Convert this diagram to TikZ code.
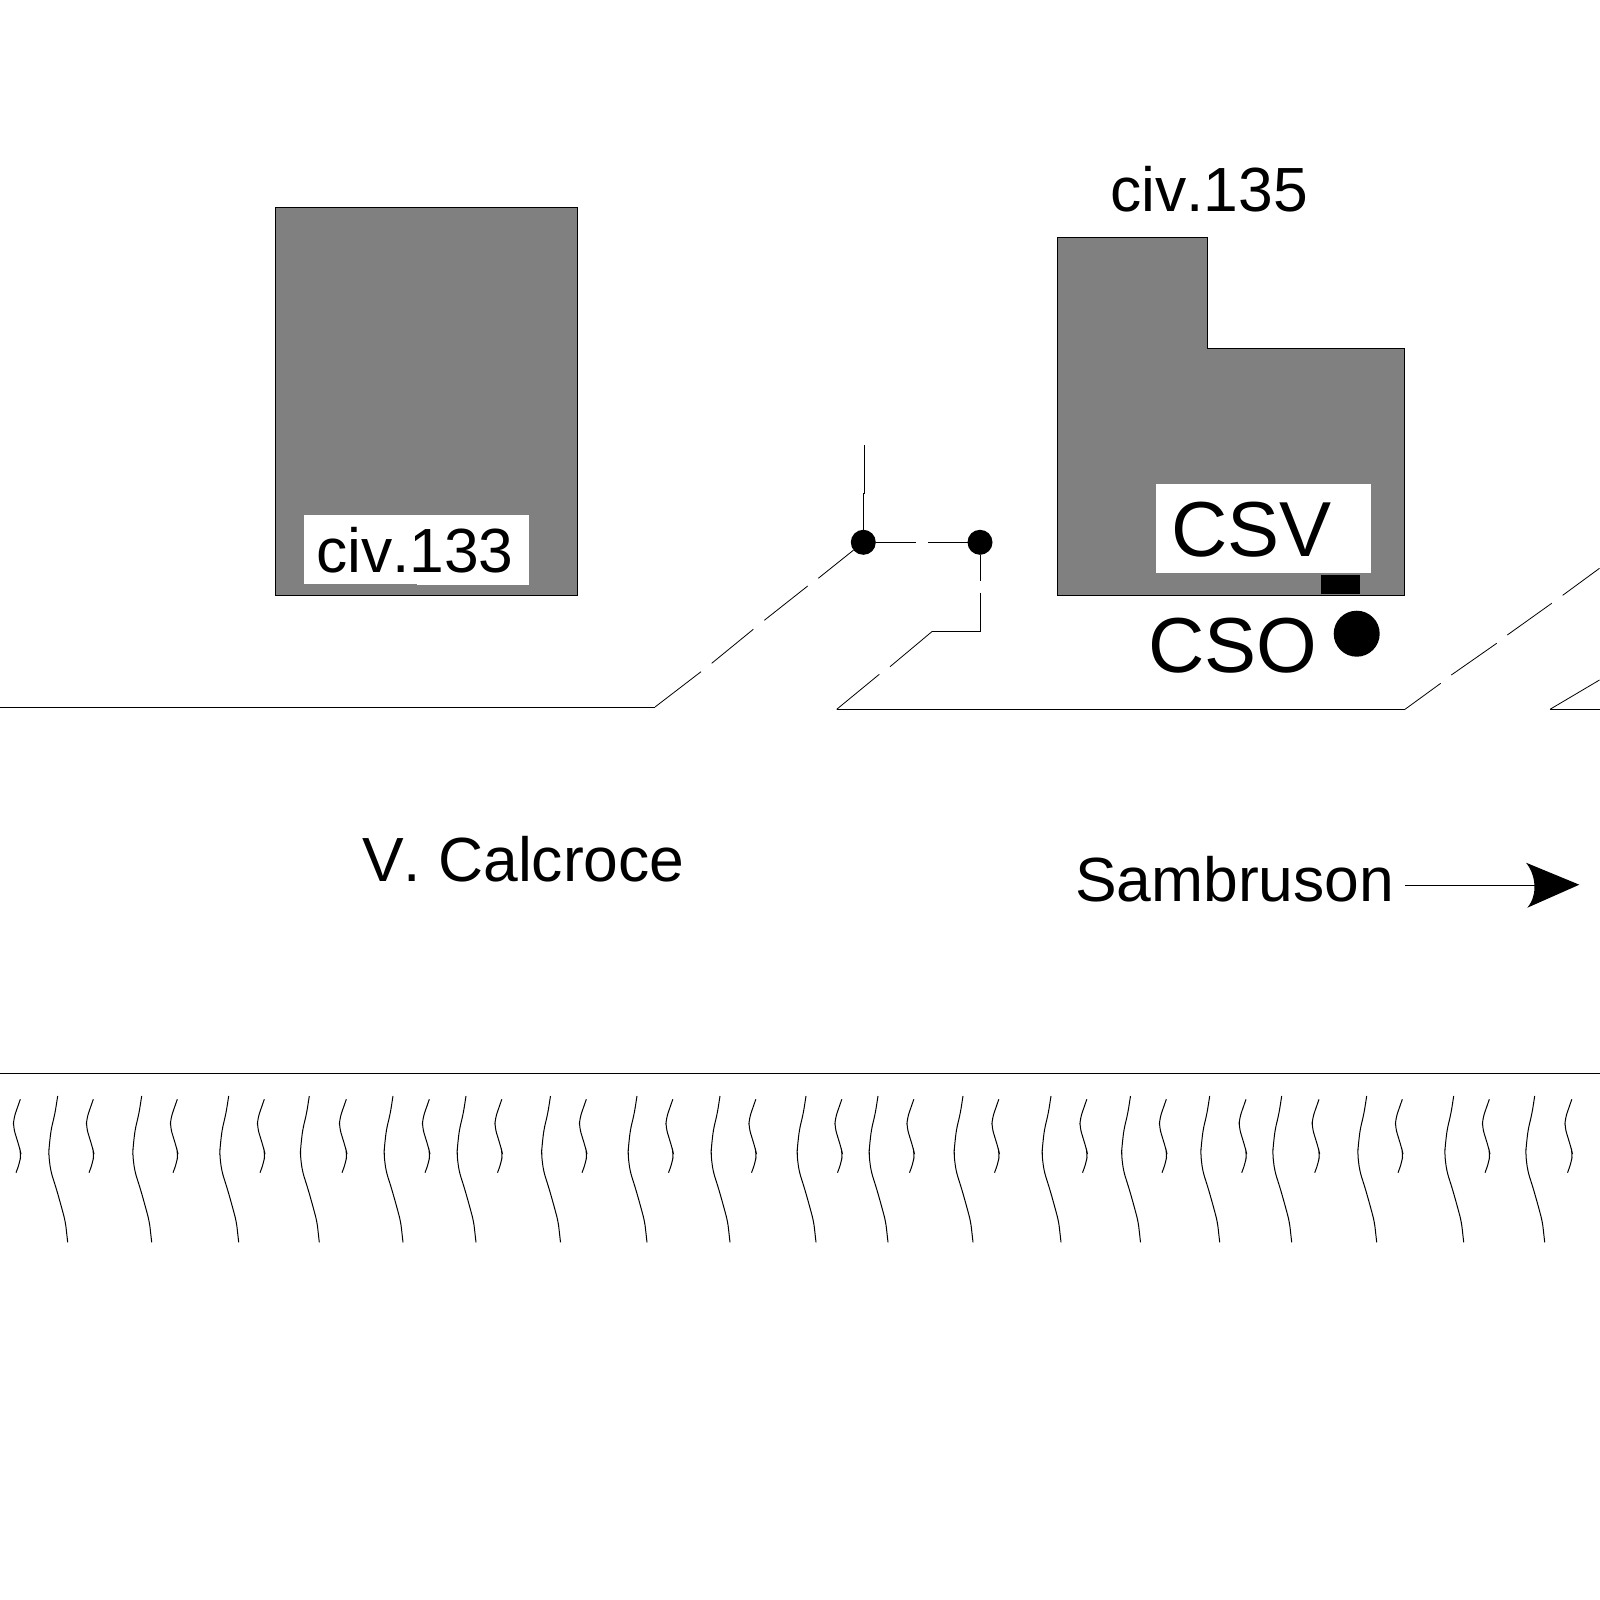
\documentclass[tikz,border=0pt]{standalone}
\usepackage{fontspec}
\setmainfont[Kerning=Off]{Liberation Sans}
\newcommand{\labelsmall}{\fontsize{31.2}{31.2}\selectfont}
\newcommand{\labelbig}{\fontsize{39}{39}\selectfont}
\tikzset{
  thinline/.style={line width=0.5pt,black},
  edgeline/.style={line width=0.4pt,black},
  building/.style={fill=black!50!white,draw=black,line width=0.4pt},
  whitebox/.style={fill=white,draw=none},
  txt/.style={anchor=base west,inner sep=0pt,outer sep=0pt,text=black},
  pipedot/.style={circle,fill=black,draw=none,minimum size=12.5pt,inner sep=0pt,outer sep=0pt},
  grassline/.style={line width=0.5pt,black,rounded corners=3pt}
}
\begin{document}
\begin{tikzpicture}[x=0.5pt,y=-0.5pt]
\useasboundingbox (0,0) rectangle (1600,1600);
% buildings
\draw[building] (275.5,207.5) rectangle (577.5,595.3);
\draw[building] (1057.3,237) -- (1207.5,237) -- (1207.5,348.5) -- (1404.4,348.5) -- (1404.4,595) -- (1057.3,595) -- cycle;
\fill[whitebox] (304,515) rectangle (528.7,583.7);
\fill[whitebox] (416.7,570) rectangle (528.7,585);
\fill[whitebox] (1156,484) rectangle (1371,572.7);
\fill[black] (1321,575) rectangle (1360,594);
% labels
\node[txt] (civ133) at (316,572.5) {\labelsmall civ.133};
\node[txt] (civ135) at (1110,211) {\labelsmall civ.135};
\node[txt] (csv) at (1171,556.5) {\labelbig CSV};
\node[txt] (cso) at (1148,672.5) {\labelbig CSO};
\node[txt] (calc) at (362,881.5) {\labelsmall V. Calcroce};
\node[txt] (samb) at (1075,901.5) {\labelsmall Sambruson};
% CSO dot
\node[circle,fill=black,minimum size=23pt,inner sep=0pt] (csodot) at (1356.7,633.7) {};
% pipe dots
\node[pipedot] (n1) at (863.3,542.3) {};
\node[pipedot] (n2) at (980,542.3) {};
% free ends
\coordinate (v1) at (864.3,445);
\coordinate (h1a) at (916,542.3);
\coordinate (h1b) at (928,542.3);
\coordinate (v2a) at (980,580.7);
\coordinate (v2b) at (980,592.7);
% pipe lines
\draw[thinline] (v1) -- (864.3,493) -- (863.3,493) -- (n1);
\draw[thinline] (n1) -- (h1a);
\draw[thinline] (h1b) -- (n2);
\draw[thinline] (n2) -- (v2a);
\draw[thinline] (v2b) -- (980,631.3) -- (932.3,631.3);
\draw[edgeline] (932.3,631.3) -- (890,666.7);
\draw[edgeline] (879.3,674.3) -- (836.7,709.3);
\draw[thinline] (836.7,709.3) -- (1405,709.3);
\draw[thinline] (0,707) -- (655,707);
\draw[edgeline] (655,707) -- (701,671.7);
\draw[edgeline] (711.7,663.3) -- (753.3,629.3);
\draw[edgeline] (764.3,620.3) -- (807.7,586);
\draw[edgeline] (818.3,578.3) -- (n1);
% right road edges
\draw[edgeline] (1405,709.3) -- (1440.7,683.3);
\draw[edgeline] (1451.3,675) -- (1496.7,643.3);
\draw[edgeline] (1507.3,635) -- (1551.7,603.3);
\draw[edgeline] (1562.7,595.3) -- (1599.5,568.3);
\draw[edgeline] (1599.5,680) -- (1550,709.3);
\draw[thinline] (1550,709.3) -- (1600,709.3);
% arrow
\coordinate (arrowstart) at (1405,885.3);
\coordinate (arrowtip) at (1579.3,884.7);
\draw[thinline] (arrowstart) -- (1537,885.3);
\fill[black] (arrowtip) -- (1526,862.7) .. controls (1536,875) and (1538,895) .. (1527.3,907.7) -- cycle;
% bank line
\draw[thinline] (0,1073.3) -- (1600,1073.3);
% bank hatching
\foreach \bx in {67.7,151.7,238.7,319.3,403,476,560.5,647,730,816,888,973,1061,1140.5,1219.7,1291.7,1376.7,1463.7,1544.7}{
  \draw[grassline,xshift=\bx*0.5pt] (-10,1096) -- (-12.7,1113.3) -- (-16.7,1130) -- (-18.7,1148.3) -- (-19,1155) -- (-17,1171) -- (-11,1190) -- (-6.3,1206.7) -- (-2.3,1221.7) -- (0,1242.3);
}
\foreach \bx in {16,89,173,260,342,425,497.5,582,668.5,751.5,837.5,909.5,994.5,1082.5,1162,1241.7,1314.7,1398,1485,1567.5}{
  \draw[grassline,xshift=\bx*0.5pt] (4.3,1099.3) -- (-2.3,1118.3) -- (-2.7,1127.3) -- (3.7,1148.3) -- (5,1154) -- (3.7,1162.7) -- (0,1172.7);
}
\end{tikzpicture}
\end{document}
